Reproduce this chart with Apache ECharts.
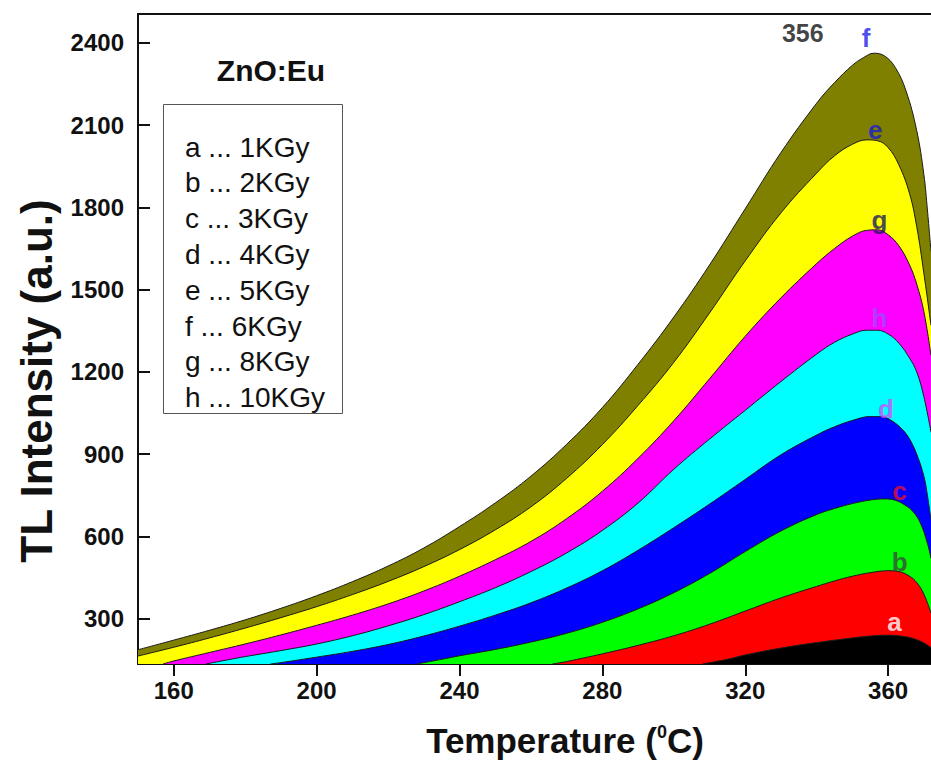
<!DOCTYPE html>
<html><head><meta charset="utf-8">
<script src="https://cdn.jsdelivr.net/npm/echarts@6/dist/echarts.min.js"></script>
<style>html,body{margin:0;padding:0;background:#fff}#c{width:931px;height:762px}</style>
</head><body><div id="c"></div>
<script>
// ---- data ----
const xTicks = [160, 200, 240, 280, 320, 360];
const yTicks = [300, 600, 900, 1200, 1500, 1800, 2100, 2400];
const legendIds = ['a', 'b', 'c', 'd', 'e', 'f', 'g', 'h'];
const legendDoses = ['1KGy', '2KGy', '3KGy', '4KGy', '5KGy', '6KGy', '8KGy', '10KGy'];
const drawOrder = ['f', 'e', 'g', 'h', 'd', 'c', 'b', 'a'];

const tempF = [150,160,170,180,190,200,210,220,230,240,250,260,270,280,290,300,310,320,330,340,345,350,353,356,359,362,365,368,370,371,372];
const tlF   = [187,222,258,296,338,384,435,492,558,636,722,820,936,1070,1228,1400,1590,1795,2000,2180,2255,2318,2345,2362,2352,2310,2225,2080,1920,1790,1640];
const tempE = [150,160,170,180,190,200,210,220,230,240,250,260,270,280,290,300,310,320,330,340,345,350,354,357,360,363,366,368,370,372];
const tlE   = [164,196,230,266,304,344,388,436,490,552,624,708,812,935,1078,1235,1415,1605,1780,1925,1988,2030,2046,2043,2018,1955,1850,1730,1560,1370];
const tempG = [157,160,170,180,190,200,210,220,230,240,250,260,270,280,290,300,310,320,330,340,345,350,354,357,360,363,366,368,370,372];
const tlG   = [135,146,177,208,241,276,313,354,401,455,515,582,665,765,885,1022,1175,1330,1470,1595,1650,1695,1716,1718,1700,1660,1590,1520,1420,1260];
const tempH = [169,175,180,190,200,210,220,230,240,250,260,270,280,290,300,310,320,330,340,345,350,354,357,360,363,366,368,370,372];
const tlH   = [135,150,162,184,208,238,274,315,362,413,472,540,622,722,845,955,1060,1165,1265,1308,1338,1352,1352,1338,1305,1250,1200,1110,980];
const tempD = [187,190,200,210,220,230,240,250,260,270,280,290,300,310,320,330,340,345,350,355,358,361,364,366,368,370,371,372];
const tlD   = [135,140,160,181,206,237,273,313,358,412,475,550,632,718,808,898,970,1000,1023,1037,1037,1022,990,955,900,820,750,660];
const tempC = [228,235,240,250,260,270,280,290,300,310,320,330,340,345,350,355,359,362,365,367,369,371,372];
const tlC   = [135,152,165,188,215,247,287,336,395,465,545,620,680,702,720,733,737,732,712,690,650,575,520];
const tempB = [266,270,280,290,300,310,320,330,340,345,350,355,360,363,366,368,370,372];
const tlB   = [135,144,172,203,238,280,328,376,418,438,455,468,475,472,455,432,390,320];
const tempA = [308,315,320,330,340,350,356,360,364,367,370,372];
const tlA   = [135,152,168,193,213,230,238,240,236,228,212,195];

const curveLabelTemp = [353.8, 356.4, 357.6, 357.6, 359.4, 363.2, 363.2, 361.8]; // f e g h d c b a
const curveLabelTL   = [2416, 2083, 1755, 1398, 1064, 767, 506, 288];
const peakText = '356';
const peakTextPos = [336.1, 2434];

// ---- styles ----
const FONT = '"Liberation Sans", Arial, sans-serif';
const fills = {f:'#808000', e:'#ffff00', g:'#ff00ff', h:'#00ffff', d:'#0000ff', c:'#00ff00', b:'#ff0000', a:'#000000'};
const labelColors = {f:'#1f1fe6', e:'#1a1acc', g:'#1a1a60', h:'#9b4dff', d:'#d24dff', c:'#e8132a', b:'#3b4a3b', a:'#ffffff'};

const curves = {
  f: [tempF, tlF], e: [tempE, tlE], g: [tempG, tlG], h: [tempH, tlH],
  d: [tempD, tlD], c: [tempC, tlC], b: [tempB, tlB], a: [tempA, tlA]
};

const series = drawOrder.map(id => ({
  name: id,
  type: 'line',
  xAxisIndex: 0, yAxisIndex: 0,
  data: curves[id][0].map((t, i) => [t, curves[id][1][i]]),
  showSymbol: false,
  smooth: 0.4,
  lineStyle: {color: '#1a1a1a', width: 1},
  areaStyle: {color: fills[id], opacity: 1, origin: 'start'},
  animation: false
}));

series.push({
  type: 'scatter',
  symbolSize: 0,
  z: 10,
  animation: false,
  data: drawOrder.map((id, i) => ({
    value: [curveLabelTemp[i], curveLabelTL[i]],
    label: {show: true, position: 'inside', formatter: id, color: labelColors[id],
            fontSize: 26, fontWeight: 'bold', fontFamily: FONT}
  })).concat([{
    value: peakTextPos,
    label: {show: true, position: 'inside', formatter: peakText, color: '#111',
            fontSize: 25, fontWeight: 'bold', fontFamily: FONT}
  }])
});

const graphics = [{
  type: 'rect', left: 163, top: 104, z: 20,
  shape: {width: 179, height: 309},
  style: {fill: '#fff', stroke: '#555', lineWidth: 1}
}];
legendIds.forEach((id, i) => {
  graphics.push({
    type: 'text', x: 185, y: 147 + i * 35.8, z: 21,
    style: {text: id + ' ... ' + legendDoses[i], fontSize: 28, fontFamily: FONT,
            fill: '#111', verticalAlign: 'middle', align: 'left'}
  });
});
graphics.push({
  type: 'text', x: 271, y: 70, z: 21,
  style: {text: 'ZnO:Eu', fontSize: 30, fontWeight: 'bold', fontFamily: FONT,
          fill: '#111', verticalAlign: 'middle', align: 'center'}
});
// axis titles
graphics.push({
  type: 'text', x: 565, y: 740, z: 21,
  style: {text: 'Temperature ({s|0}C)', fontSize: 35, fontWeight: 'bold', fontFamily: FONT,
          fill: '#111', verticalAlign: 'middle', align: 'center',
          rich: {s: {fontSize: 18, fontWeight: 'bold', fontFamily: FONT, fill: '#111', verticalAlign: 'top', padding: [0, 0, 14, 0]}}}
});
graphics.push({
  type: 'text', x: 36, y: 381, rotation: Math.PI / 2, z: 21,
  style: {text: 'TL Intensity (a.u.)', fontSize: 44, fontWeight: 'bold', fontFamily: FONT,
          fill: '#111', verticalAlign: 'middle', align: 'center'}
});

const chart = echarts.init(document.getElementById('c'), null, {renderer: 'svg'});
chart.setOption({
  backgroundColor: '#fff',
  animation: false,
  grid: {left: 138, right: 0, top: 14, bottom: 98, containLabel: false},
  xAxis: [{
    type: 'value', min: 150, max: 372, position: 'bottom',
    axisLine: {show: true, onZero: false, lineStyle: {color: '#111', width: 2}},
    axisTick: {show: true, inside: false, length: 12, lineStyle: {color: '#111', width: 2}, customValues: xTicks},
    axisLabel: {fontSize: 24, fontWeight: 'bold', fontFamily: FONT, color: '#111', margin: 14, customValues: xTicks,
                formatter: v => String(v)},
    splitLine: {show: false}
  }, {
    type: 'value', min: 150, max: 372, position: 'top',
    axisLine: {show: true, onZero: false, lineStyle: {color: '#111', width: 2}},
    axisTick: {show: false}, axisLabel: {show: false}, splitLine: {show: false}
  }],
  yAxis: [{
    type: 'value', min: 135, max: 2505,
    axisLine: {show: true, onZero: false, lineStyle: {color: '#111', width: 2}},
    axisTick: {show: true, inside: true, length: 12, lineStyle: {color: '#111', width: 2}, customValues: yTicks},
    axisLabel: {fontSize: 24, fontWeight: 'bold', fontFamily: FONT, color: '#111', margin: 14, customValues: yTicks,
                formatter: v => String(v)},
    splitLine: {show: false}
  }],
  graphic: graphics,
  series: series
});
</script></body></html>
